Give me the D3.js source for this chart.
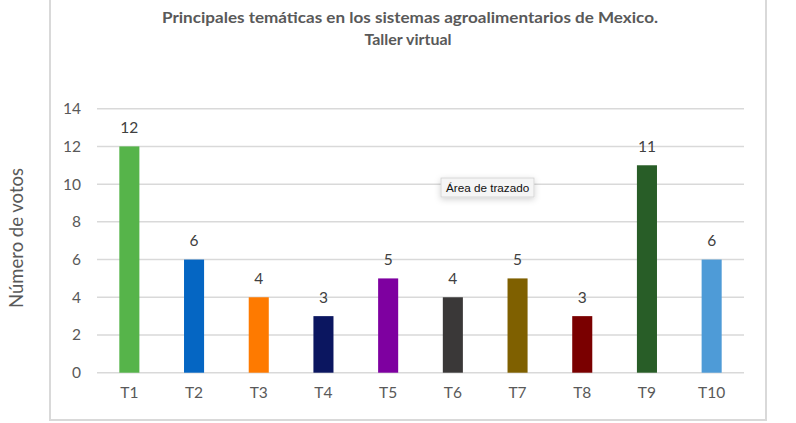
<!DOCTYPE html>
<html><head><meta charset="utf-8">
<script src="https://cdn.jsdelivr.net/npm/d3@7"></script>
<style>
html,body{margin:0;padding:0;background:#fff;}
svg{display:block;}
</style></head>
<body>
<svg id="chart" width="796" height="423"></svg>
<script>
const categories = ["T1","T2","T3","T4","T5","T6","T7","T8","T9","T10"];
const votes = [12, 6, 4, 3, 5, 4, 5, 3, 11, 6];
const barColors = ["#56b44a","#0566c3","#fe7a00","#0b1660","#7e00a0","#3a3838","#7f6000","#7a0000","#285d27","#4e9bd7"];
const yTicks = [0, 2, 4, 6, 8, 10, 12, 14];
const titleLines = ["Principales temáticas en los sistemas agroalimentarios de Mexico.", "Taller virtual"];
const yTitle = "Número de votos";
const tooltipText = "Área de trazado";

const svg = d3.select("#chart");
const font = "Lato, 'Open Sans', sans-serif";

// chart frame
svg.append("path").attr("d", "M50,0 V420 H766 V0").attr("fill","none").attr("stroke","#d9d9d9").attr("stroke-width",2);

const x = d3.scaleBand().domain(categories).range([97, 744]).paddingInner(0.69).paddingOuter(0.345);
const y = d3.scaleLinear().domain([0, 14]).range([372.7, 108.7]);

// gridlines
svg.append("g").selectAll("line").data(yTicks).join("line")
  .attr("x1", 97).attr("x2", 744)
  .attr("y1", d => y(d)).attr("y2", d => y(d))
  .attr("stroke", "#d9d9d9").attr("stroke-width", 1.5);

// y axis labels
const yAxis = d3.axisLeft(y).tickValues(yTicks).tickSize(0).tickPadding(0);
const gy = svg.append("g").attr("transform", "translate(81,0)").call(yAxis);
gy.select(".domain").remove();
gy.selectAll("text").attr("font-family", font).attr("font-size", 15.5).attr("fill", "#595959");

// x axis labels
const xAxis = d3.axisBottom(x).tickSize(0).tickPadding(0);
const gx = svg.append("g").attr("transform", "translate(0,386)").call(xAxis);
gx.select(".domain").remove();
gx.selectAll("text").attr("font-family", font).attr("font-size", 15.5).attr("fill", "#595959").attr("dy", "0.75em");

// bars
svg.append("g").selectAll("rect").data(categories).join("rect")
  .attr("x", d => x(d)).attr("width", x.bandwidth())
  .attr("y", (d,i) => y(votes[i])).attr("height", (d,i) => y(0) - y(votes[i]))
  .attr("fill", (d,i) => barColors[i]);

// data labels
svg.append("g").selectAll("text").data(categories).join("text")
  .attr("x", d => x(d) + x.bandwidth()/2)
  .attr("y", (d,i) => y(votes[i]) - 13.5)
  .attr("text-anchor", "middle")
  .attr("font-family", font).attr("font-size", 15.5).attr("fill", "#404040")
  .text((d,i) => votes[i]);

// title
svg.append("text").attr("x", 410).attr("y", 22.5).attr("text-anchor","middle")
  .attr("font-family", font).attr("font-weight","bold").attr("font-size", 16).attr("fill","#595959")
  .attr("textLength", 496).attr("lengthAdjust","spacingAndGlyphs")
  .text(titleLines[0]);
svg.append("text").attr("x", 408).attr("y", 45).attr("text-anchor","middle")
  .attr("font-family", font).attr("font-weight","bold").attr("font-size", 16).attr("fill","#595959")
  .text(titleLines[1]);

// y title
svg.append("text").attr("transform","translate(23,238) rotate(-90)").attr("text-anchor","middle")
  .attr("font-family", font).attr("font-size", 18.5).attr("fill","#595959")
  .text(yTitle);

// tooltip
const defs = svg.append("defs");
const f = defs.append("filter").attr("id","sh").attr("x","-30%").attr("y","-50%").attr("width","160%").attr("height","250%");
f.append("feDropShadow").attr("dx",0).attr("dy",2).attr("stdDeviation",3).attr("flood-color","#000").attr("flood-opacity",0.18);
svg.append("rect").attr("x",441).attr("y",178).attr("width",93).attr("height",19)
  .attr("fill","#f5f5f5").attr("stroke","#cfcfcf").attr("stroke-width",0.8).attr("filter","url(#sh)");
svg.append("text").attr("x",446).attr("y",191.5)
  .attr("font-family","'Liberation Sans', Arial, sans-serif").attr("font-size",11.7).attr("fill","#111")
  .text(tooltipText);
</script>
</body></html>
